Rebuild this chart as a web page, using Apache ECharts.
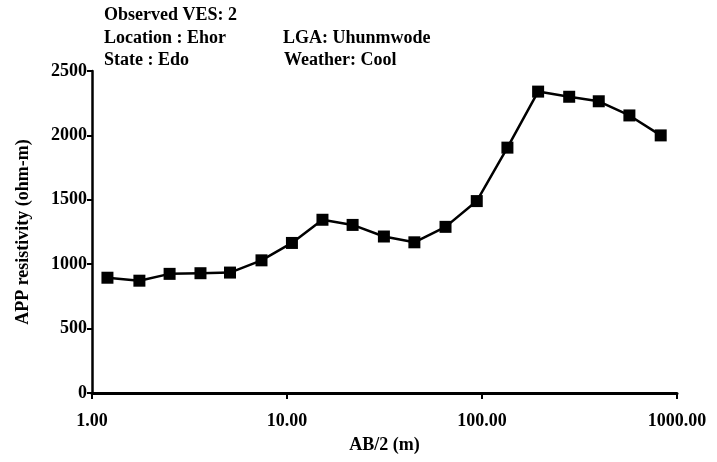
<!DOCTYPE html>
<html>
<head>
<meta charset="utf-8">
<script src="https://cdn.jsdelivr.net/npm/echarts@6/dist/echarts.min.js"></script>
<style>
  html, body { margin: 0; padding: 0; background: #fff; }
  #main { width: 717px; height: 462px; }
</style>
</head>
<body>
<div id="main"></div>
<script>
// AB/2 spacing (m)
var spacing = [1.2, 1.75, 2.5, 3.6, 5.1, 7.4, 10.6, 15.2, 21.7, 31.4, 45, 65, 94, 135, 194, 280, 397, 570, 825];
// apparent resistivity (ohm-m)
var resistivity = [895, 872, 925, 930, 935, 1030, 1165, 1345, 1305, 1215, 1170, 1290, 1490, 1905, 2340, 2300, 2265, 2155, 2000];
var yTicks = [0, 500, 1000, 1500, 2000, 2500];

var serif = '"Liberation Serif", "DejaVu Serif", serif';

var points = spacing.map(function(x, i) {
	return [x, resistivity[i]];
});

var headerText = function(text, x, y) {
	return {
		type: 'text',
		left: x,
		top: y,
		style: {
			text: text,
			font: 'bold 18px ' + serif,
			fill: '#000'
		}
	};
};

var option = {
	animation: false,
	backgroundColor: '#fff',
	grid: {
		left: 92,
		right: 40,
		top: 71,
		bottom: 69,
		containLabel: false,
		outerBoundsMode: 'none'
	},
	graphic: [
		headerText('Observed VES: 2', 104, 6),
		headerText('Location : Ehor', 104, 29),
		headerText('State : Edo', 104, 51),
		headerText('LGA: Uhunmwode', 283, 29),
		headerText('Weather: Cool', 284, 51)
	],
	xAxis: {
		type: 'log',
		logBase: 10,
		min: 1,
		max: 1000,
		name: 'AB/2 (m)',
		nameLocation: 'middle',
		nameGap: 43,
		nameTextStyle: { color: '#000', fontFamily: serif, fontSize: 18, fontWeight: 'bold' },
		axisLine: { lineStyle: { color: '#000', width: 3 } },
		axisTick: { length: 6, lineStyle: { color: '#000', width: 2 } },
		minorTick: { show: false },
		splitLine: { show: false },
		axisLabel: {
			margin: 19,
			color: '#000',
			fontFamily: serif,
			fontSize: 18,
			fontWeight: 'bold',
			formatter: function(v) { return v.toFixed(2); }
		}
	},
	yAxis: {
		type: 'value',
		min: yTicks[0],
		max: yTicks[yTicks.length - 1],
		interval: 500,
		name: 'APP resistivity (ohm-m)',
		nameLocation: 'middle',
		nameGap: 60,
		nameTextStyle: { color: '#000', fontFamily: serif, fontSize: 18, fontWeight: 'bold' },
		axisLine: { show: true, lineStyle: { color: '#000', width: 2.5 } },
		axisTick: { show: true, length: 5, lineStyle: { color: '#000', width: 2 } },
		splitLine: { show: false },
		axisLabel: {
			margin: 5,
			color: '#000',
			fontFamily: serif,
			fontSize: 18,
			fontWeight: 'bold',
			formatter: function(v) { return String(v); }
		}
	},
	series: [{
		type: 'line',
		data: points,
		symbol: 'rect',
		symbolSize: 12,
		showAllSymbol: true,
		itemStyle: { color: '#000' },
		lineStyle: { color: '#000', width: 2.5 }
	}]
};

var myChart = echarts.init(document.getElementById('main'), null, { renderer: 'canvas' });
myChart.setOption(option);
</script>
</body>
</html>
